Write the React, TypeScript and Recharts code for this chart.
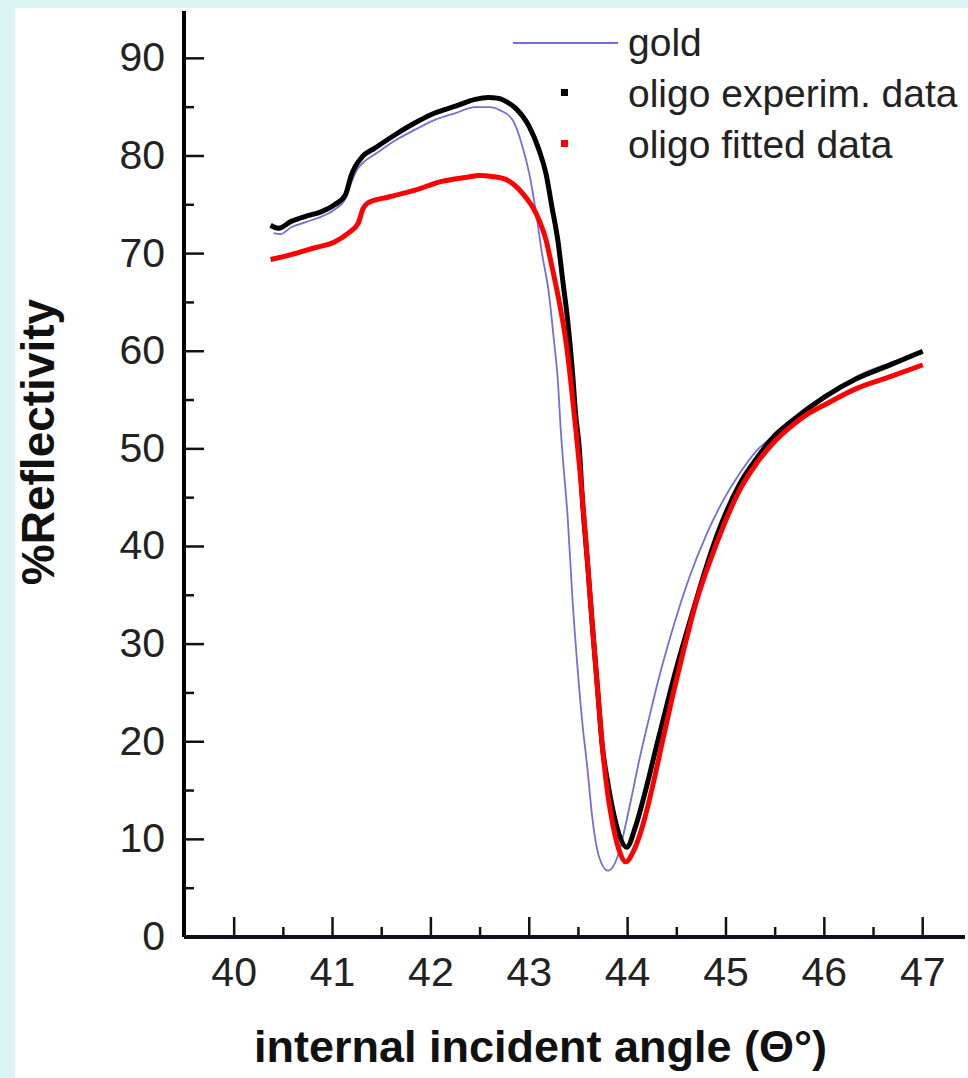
import React from "react";
import { LineChart, Line, XAxis, YAxis, Legend } from "recharts";

const FONT = '"Liberation Sans", Arial, Helvetica, sans-serif';

// angle (deg) / %reflectivity
const goldAngle = [40.40, 40.47, 40.58, 40.72, 40.89, 41.02, 41.13, 41.20, 41.25, 41.32, 41.45, 41.64, 41.84, 42.04, 42.25, 42.45, 42.60, 42.70, 42.83, 42.93, 43.00, 43.07, 43.13, 43.20, 43.25, 43.29, 43.32, 43.35, 43.39, 43.44, 43.49, 43.54, 43.59, 43.64, 43.71, 43.80, 43.91, 43.98, 44.05, 44.12, 44.22, 44.32, 44.43, 44.53, 44.63, 44.80, 44.97, 45.14, 45.31, 45.48, 45.65, 46.03, 46.33, 46.67, 47.00];
const goldValue = [72.1, 72.0, 72.7, 73.2, 73.8, 74.5, 75.6, 77.5, 78.6, 79.4, 80.3, 81.6, 82.7, 83.7, 84.4, 85.0, 85.0, 84.7, 83.7, 81.0, 78.2, 74.1, 70.0, 65.9, 61.2, 57.1, 52.0, 48.0, 43.1, 34.5, 27.7, 21.9, 17.4, 12.3, 8.2, 6.8, 8.6, 11.5, 14.8, 18.2, 22.5, 26.6, 30.6, 33.9, 36.9, 41.2, 44.7, 47.5, 49.8, 51.3, 52.6, 55.4, 57.4, 58.8, 59.8];

const expAngle = [40.37, 40.45, 40.58, 40.72, 40.89, 41.02, 41.13, 41.19, 41.23, 41.30, 41.43, 41.64, 41.84, 42.04, 42.25, 42.45, 42.58, 42.69, 42.78, 42.86, 43.00, 43.10, 43.17, 43.23, 43.29, 43.34, 43.39, 43.44, 43.47, 43.51, 43.54, 43.59, 43.64, 43.69, 43.74, 43.80, 43.85, 43.91, 43.99, 44.08, 44.19, 44.29, 44.39, 44.49, 44.60, 44.70, 44.80, 44.90, 45.14, 45.31, 45.48, 45.65, 46.00, 46.33, 46.67, 47.00];
const expValue = [72.9, 72.6, 73.3, 73.8, 74.3, 75.0, 76.0, 78.0, 78.9, 79.9, 80.8, 82.2, 83.4, 84.4, 85.1, 85.8, 86.0, 85.9, 85.5, 84.9, 83.0, 80.6, 78.2, 74.8, 71.4, 67.3, 63.2, 57.8, 53.7, 49.9, 44.8, 38.6, 32.1, 26.0, 19.8, 15.7, 13.0, 10.6, 9.2, 11.3, 15.3, 19.4, 23.4, 27.3, 31.2, 34.6, 37.9, 40.9, 46.4, 49.0, 51.2, 52.7, 55.3, 57.2, 58.6, 60.0];

const fitAngle = [40.37, 40.58, 40.82, 41.02, 41.16, 41.26, 41.31, 41.36, 41.57, 41.84, 42.11, 42.35, 42.50, 42.62, 42.76, 42.93, 43.07, 43.17, 43.23, 43.30, 43.37, 43.42, 43.47, 43.51, 43.55, 43.60, 43.65, 43.70, 43.75, 43.80, 43.85, 43.91, 43.98, 44.06, 44.15, 44.26, 44.36, 44.46, 44.56, 44.63, 44.70, 44.83, 44.97, 45.14, 45.31, 45.48, 45.65, 45.82, 46.00, 46.33, 46.67, 47.00];
const fitValue = [69.4, 69.9, 70.6, 71.2, 72.1, 73.1, 74.6, 75.2, 75.8, 76.5, 77.4, 77.8, 78.0, 77.9, 77.6, 76.2, 74.1, 71.4, 68.7, 65.3, 61.2, 57.1, 52.3, 48.3, 43.8, 37.4, 30.8, 24.7, 18.8, 14.5, 11.5, 9.0, 7.7, 8.8, 11.3, 15.7, 20.3, 24.8, 29.0, 31.8, 34.4, 38.3, 42.0, 45.8, 48.5, 50.6, 52.2, 53.5, 54.5, 56.2, 57.4, 58.6];

const xTicks = [40, 40.5, 41, 41.5, 42, 42.5, 43, 43.5, 44, 44.5, 45, 45.5, 46, 46.5, 47];
const yTicks = [0, 5, 10, 15, 20, 25, 30, 35, 40, 45, 50, 55, 60, 65, 70, 75, 80, 85, 90];
const X_DOMAIN: [number, number] = [39.49, 47.43];
const Y_DOMAIN: [number, number] = [0, 94.85];

const toPoints = (angles: number[], values: number[]) => angles.map((t, i) => ({ t, r: values[i] }));

function XTick({ x, y, payload }: any) {
  const major = Number.isInteger(payload.value);
  return (
    <g>
      <line x1={x} x2={x} y1={y} y2={y - (major ? 20 : 10)} stroke="#111" strokeWidth={2.5} />
      {major && (
        <text x={x} y={y + 49} textAnchor="middle" fontFamily={FONT} fontSize={41} fill="#222">
          {payload.value}
        </text>
      )}
    </g>
  );
}

function YTick({ x, y, payload }: any) {
  const major = payload.value % 10 === 0;
  return (
    <g>
      <line x1={x} x2={x + (major ? 20 : 10)} y1={y} y2={y} stroke="#111" strokeWidth={2.5} />
      {major && (
        <text x={x - 19} y={y + 13} textAnchor="end" fontFamily={FONT} fontSize={41} fill="#222">
          {payload.value}
        </text>
      )}
    </g>
  );
}

function LegendBox({ payload }: any) {
  return (
    <svg width={460} height={165} style={{ display: "block" }}>
      {(payload || []).map((p: any, i: number) => {
        const base = 46 + i * 51;
        return (
          <g key={p.value}>
            {p.type === "line" ? (
              <line x1={13} x2={118} y1={33} y2={33} stroke={p.color} strokeWidth={2} />
            ) : (
              <rect x={61} y={base - 18} width={7} height={7} fill={p.color} />
            )}
            <text x={128} y={base} fontFamily={FONT} fontSize={39} fill="#222">
              {p.value}
            </text>
          </g>
        );
      })}
    </svg>
  );
}

export default function App() {
  return (
    <div style={{ position: "absolute", left: 0, top: 0, width: 968, height: 1078, background: "#daf4f1" }}>
      <div style={{ position: "absolute", left: 15, top: 8, right: 0, bottom: 0, background: "#fff" }} />
      <div style={{ position: "absolute", left: 0, top: 0 }}>
        <LineChart width={968} height={1078} margin={{ top: 11, right: 3, bottom: 0, left: 0 }}>
          <XAxis
            dataKey="t"
            type="number"
            domain={X_DOMAIN}
            allowDataOverflow
            ticks={xTicks}
            interval={0}
            height={141}
            tickSize={0}
            tickMargin={0}
            tickLine={false}
            tick={<XTick />}
            axisLine={{ stroke: "#111122", strokeWidth: 4 }}
            label={({ viewBox }: any) => (
              <text
                x={viewBox.x + viewBox.width / 2 - 34}
                y={viewBox.y + 125}
                textAnchor="middle"
                fontFamily={FONT}
                fontSize={45}
                fontWeight="bold"
                fill="#111"
              >
                internal incident angle (Θ°)
              </text>
            )}
          />
          <XAxis xAxisId="top" orientation="top" type="number" domain={X_DOMAIN} allowDataOverflow height={0} tick={false} tickLine={false} axisLine={{ stroke: "#000", strokeWidth: 3.5 }} />
          <YAxis
            type="number"
            domain={Y_DOMAIN}
            allowDataOverflow
            ticks={yTicks}
            interval={0}
            width={184}
            tickSize={0}
            tickMargin={0}
            tickLine={false}
            tick={<YTick />}
            axisLine={{ stroke: "#000", strokeWidth: 4 }}
            label={({ viewBox }: any) => (
              <text
                x={viewBox.x + 38}
                y={442}
                transform={`rotate(-90, ${viewBox.x + 38}, 442)`}
                textAnchor="middle"
                dominantBaseline="central"
                fontFamily={FONT}
                fontSize={46}
                fontWeight="bold"
                fill="#111"
              >
                %Reflectivity
              </text>
            )}
          />
          <YAxis yAxisId="right" orientation="right" type="number" domain={Y_DOMAIN} allowDataOverflow width={0} tick={false} tickLine={false} axisLine={{ stroke: "#8a8a8a", strokeWidth: 2 }} />
          <Legend
            layout="vertical"
            align="center"
            verticalAlign="middle"
            wrapperStyle={{ left: 500, top: 10, width: 460 }}
            content={<LegendBox />}
          />
          <Line data={toPoints(goldAngle, goldValue)} dataKey="r" name="gold" type="monotone" stroke="#7070dc" strokeWidth={1.8} dot={false} legendType="line" isAnimationActive={false} />
          <Line data={toPoints(expAngle, expValue)} dataKey="r" name="oligo experim. data" type="monotone" stroke="#000" strokeWidth={5} dot={false} legendType="square" isAnimationActive={false} />
          <Line data={toPoints(fitAngle, fitValue)} dataKey="r" name="oligo fitted data" type="monotone" stroke="#ff0000" strokeWidth={5} dot={false} legendType="square" isAnimationActive={false} />
        </LineChart>
      </div>
    </div>
  );
}
